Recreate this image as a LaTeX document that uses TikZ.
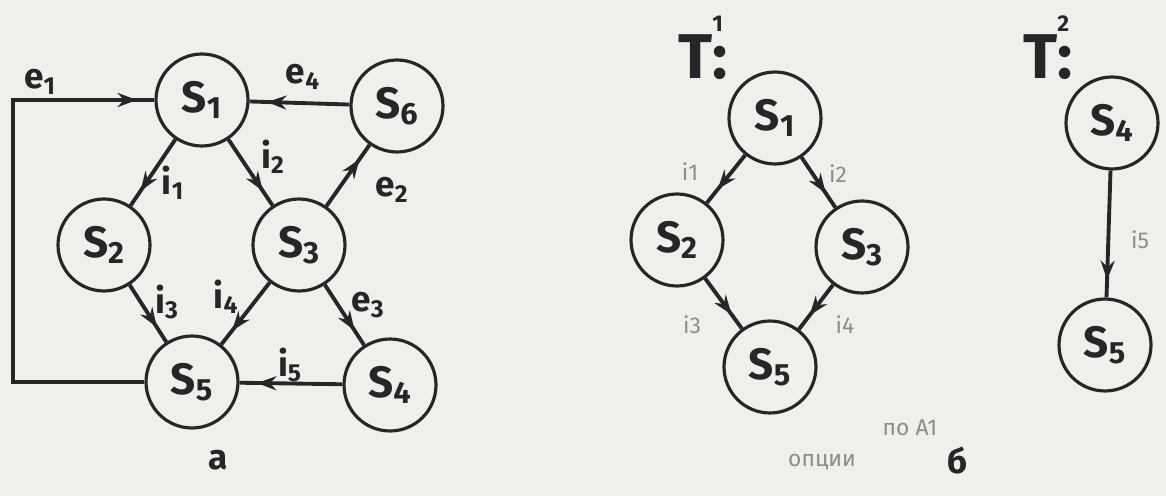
\documentclass[tikz,border=0pt]{standalone}
\usepackage{fontspec}
\setmainfont{Fira Sans}
\usetikzlibrary{arrows.meta,decorations.markings}
\definecolor{ink}{HTML}{262626}
\definecolor{paper}{HTML}{EFEFEB}
\tikzset{
  state/.style={draw=ink, circle, line width=1.8pt, minimum size=1.84cm, inner sep=0pt,
    font=\fontsize{25}{30}\selectfont\bfseries, text=ink},
  flow/.style={color=ink, line width=2.2pt, postaction={decorate},
    decoration={markings, mark=at position -0.35cm with {\arrow{Stealth[length=11pt,width=8pt]}}}},
  lbl/.style={font=\fontsize{20}{24}\selectfont\bfseries, text=ink},
  pencil/.style={font=\fontsize{13}{15}\selectfont, text=black!45},
  title/.style={font=\fontsize{36}{40}\selectfont\bfseries, text=ink, anchor=west},
}
\begin{document}
\begin{tikzpicture}[x=0.02cm, y=-0.02cm]
\fill[paper] (0,0) rectangle (1166,496);
\useasboundingbox (0,0) rectangle (1166,496);
% graph a
\node[state] (s1) at (202,100) {S\textsubscript{1}};
\node[state] (s6) at (397,106) {S\textsubscript{6}};
\node[state] (s2) at (104,245) {S\textsubscript{2}};
\node[state] (s3) at (299,245) {S\textsubscript{3}};
\node[state] (s5) at (192,382) {S\textsubscript{5}};
\node[state] (s4) at (390,385) {S\textsubscript{4}};
\coordinate (bend) at (13,382);
\draw[flow] (s5.west) -| (bend |- s1.west) -- (s1.west);
\draw[flow] (s6) -- (s1);
\draw[flow] (s1) -- (s2);
\draw[flow] (s1) -- (s3);
\draw[flow] (s3) -- (s6);
\draw[flow] (s2) -- (s5);
\draw[flow] (s3) -- (s5);
\draw[flow] (s3) -- (s4);
\draw[flow] (s4) -- (s5);
\node[lbl] (le1) at (40,82) {e\textsubscript{1}};
\node[lbl] (le4) at (303,77) {e\textsubscript{4}};
\node[lbl] (li1) at (173,183) {i\textsubscript{1}};
\node[lbl] (li2) at (273,157) {i\textsubscript{2}};
\node[lbl] (le2) at (392,190) {e\textsubscript{2}};
\node[lbl] (li3) at (167,302) {i\textsubscript{3}};
\node[lbl] (li4) at (226,297) {i\textsubscript{4}};
\node[lbl] (le3) at (368,305) {e\textsubscript{3}};
\node[lbl] (li5) at (290,365) {i\textsubscript{5}};
% trees b
\node[title] (tree1) at (672,48) {T\rlap{\raisebox{0.74em}{\fontsize{13}{15}\selectfont 1}}:};
\node[state] (t1s1) at (775,118) {S\textsubscript{1}};
\node[state] (t1s2) at (677,240) {S\textsubscript{2}};
\node[state] (t1s3) at (862,247) {S\textsubscript{3}};
\node[state] (t1s5) at (770,367) {S\textsubscript{5}};
\draw[flow] (t1s1) -- (t1s2);
\draw[flow] (t1s1) -- (t1s3);
\draw[flow] (t1s2) -- (t1s5);
\draw[flow] (t1s3) -- (t1s5);
\node[pencil] (t1i1) at (690,172) {i1};
\node[pencil] (t1i2) at (838,174) {i2};
\node[pencil] (t1i3) at (692,325) {i3};
\node[pencil] (t1i4) at (845,325) {i4};
\node[title] (tree2) at (1017,48) {T\rlap{\raisebox{0.74em}{\fontsize{13}{15}\selectfont 2}}:};
\node[state] (t2s4) at (1112,123) {S\textsubscript{4}};
\node[state] (t2s5) at (1105,345) {S\textsubscript{5}};
\draw[flow] (t2s4) -- (t2s5);
\node[pencil] (t2i5) at (1140,240) {i5};
% notes
\node[pencil] (note1) at (910,428) {по A1};
\node[pencil] (note2) at (822,462) {опции};
\node[lbl] (capa) at (218,460) {а};
\node[lbl] (capb) at (958,460) {б};
\end{tikzpicture}
\end{document}
